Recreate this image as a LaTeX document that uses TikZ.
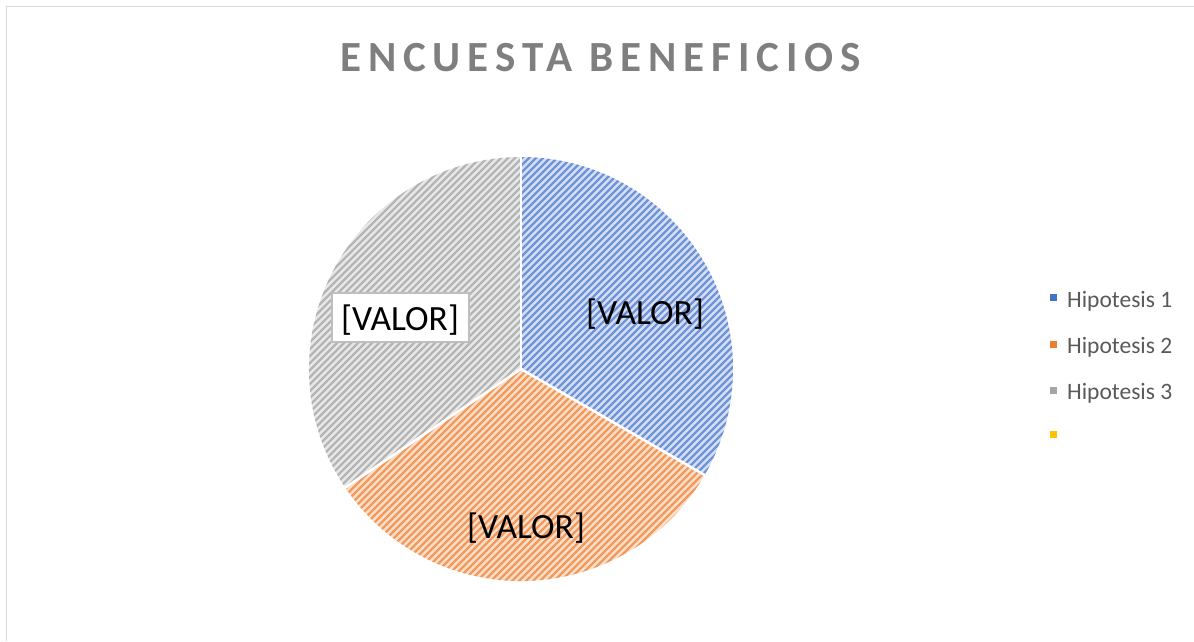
\documentclass[tikz,border=0pt]{standalone}
\usepackage{fontspec}
\setmainfont{Carlito}
\definecolor{bluedark}{HTML}{6F93D6}
\definecolor{bluelight}{HTML}{D4DFF4}
\definecolor{orgdark}{HTML}{F29A5C}
\definecolor{orglight}{HTML}{FCDFCB}
\definecolor{graydark}{HTML}{B5B5B5}
\definecolor{graylight}{HTML}{E8E8E8}
\definecolor{frame}{HTML}{D9D9D9}
\definecolor{titlegray}{HTML}{7F7F7F}
\definecolor{legtext}{HTML}{595959}
\definecolor{k1}{HTML}{4472C4}
\definecolor{k2}{HTML}{ED7D31}
\definecolor{k3}{HTML}{A5A5A5}
\definecolor{k4}{HTML}{FFC000}
\tikzset{
  slicefill/.style={fill=#1light},
  hatchline/.style={draw=#1dark, line width=2.2pt},
  sliceedge/.style={draw=white, line width=2.6pt, line join=miter},
  vallabel/.style={font=\fontsize{35.5}{40}\selectfont, text=black, inner sep=0pt},
  legkey/.style={minimum size=7pt, inner sep=0pt, fill=#1},
  legtxt/.style={font=\fontsize{23.5}{27}\selectfont, text=legtext, inner sep=0pt, anchor=base west},
}
\begin{document}
\begin{tikzpicture}[x=1pt,y=1pt]
\useasboundingbox (0,0) rectangle (1194,-641);
\draw[frame, line width=1.6pt] (6.5,-641) -- (6.5,-6.5) -- (1194,-6.5);
\coordinate (c) at (521,-369);
% slices
\foreach \nm/\a/\b in {blue/90/-30, org/-30/-146, gray/-146/-270}{
  \fill[slicefill=\nm] (c) -- ++(\a:212) arc[start angle=\a, end angle=\b, radius=212] -- cycle;
  \begin{scope}
    \clip (c) -- ++(\a:212) arc[start angle=\a, end angle=\b, radius=212] -- cycle;
    \foreach \i in {-441,-434,...,441}{
      \draw[hatchline=\nm] ([xshift=\i pt-230pt, yshift=-230pt]c) -- ++(460,460);
    }
  \end{scope}
}
\foreach \a in {90,-30,-146}{
  \draw[sliceedge] (c) -- ++(\a:214);
}
% title
\node[anchor=base west, inner sep=0pt, text=titlegray, font=\fontsize{43}{50}\selectfont\bfseries\addfontfeatures{LetterSpace=16}] (title) at (340,-71) {ENCUESTA BENEFICIOS};
% labels
\node[vallabel, anchor=base] (v1) at (645,-324) {[VALOR]};
\node[vallabel, anchor=base] (v2) at (526,-538) {[VALOR]};
\node[draw=white!75!black, fill=white, line width=1.5pt, minimum width=137pt, minimum height=49pt] (box3) at (400.5,-317.5) {};
\node[vallabel, anchor=base] (v3) at (400,-330) {[VALOR]};
% legend
\node[legkey=k1] (l1) at (1053.5,-297.5) {};
\node[legkey=k2] (l2) at (1053.5,-344) {};
\node[legkey=k3] (l3) at (1053.5,-390) {};
\node[legkey=k4] (l4) at (1053.5,-434) {};
\node[legtxt] (t1) at (1067,-307) {Hipotesis 1};
\node[legtxt] (t2) at (1067,-353.5) {Hipotesis 2};
\node[legtxt] (t3) at (1067,-399.5) {Hipotesis 3};
\end{tikzpicture}
\end{document}
